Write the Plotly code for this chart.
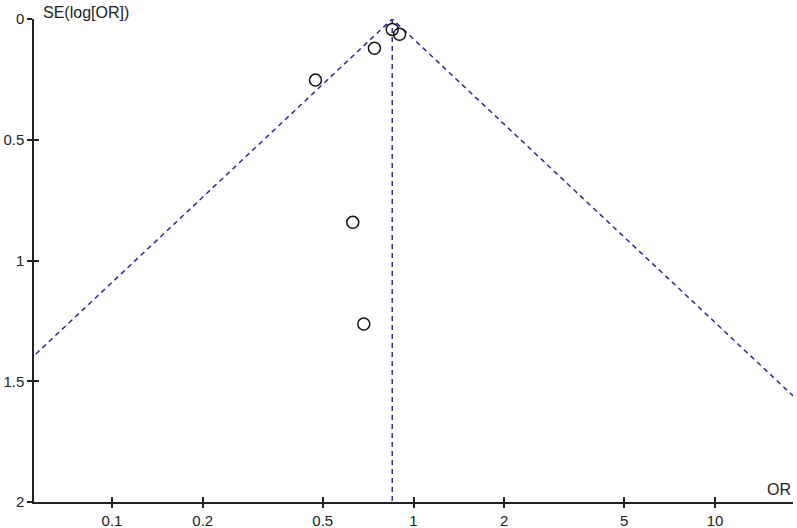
import plotly.graph_objects as go

# study estimates
study_or = [0.850, 0.899, 0.742, 0.473, 0.629, 0.684]
study_se = [0.043, 0.063, 0.121, 0.253, 0.842, 1.263]

# pooled estimate and the pseudo 95% limits (ends at SE = 2)
pooled_or = [0.85, 0.85]
pooled_se = [0, 2]
funnel_or = [0.0168, 0.85, 43.0]
funnel_se = [2, 0, 2]

x_ticks = [0.1, 0.2, 0.5, 1, 2, 5, 10]
x_labels = ["0.1", "0.2", "0.5", "1", "2", "5", "10"]
y_ticks = [0, 0.5, 1, 1.5, 2]
y_labels = ["0", "0.5", "1", "1.5", "2"]

dash_col = "#2a2a96"
ink = "#222222"
font = dict(family="Liberation Sans, Arial, sans-serif", size=15, color=ink)
x_range = [-1.2587, 1.2587]
y_range = [2, 0]

fig = go.Figure()
fig.add_trace(go.Scatter(x=funnel_or, y=funnel_se, mode="lines",
                         line=dict(color=dash_col, width=1.5, dash="5px,4px"),
                         hoverinfo="skip"))
fig.add_trace(go.Scatter(x=pooled_or, y=pooled_se, mode="lines",
                         line=dict(color=dash_col, width=1.5, dash="5px,4px"),
                         hoverinfo="skip"))
fig.add_trace(go.Scatter(x=study_or, y=study_se, mode="markers",
                         marker=dict(symbol="circle-open", size=12,
                                     line=dict(color="#111111", width=1.5),
                                     color="#111111")))
# empty trace so the overlay axes (inner half of the ticks) get drawn
fig.add_trace(go.Scatter(x=[], y=[], xaxis="x2", yaxis="y2", hoverinfo="skip"))

axis_common = dict(showgrid=False, zeroline=False, automargin=False,
                   tickwidth=1.5, tickcolor=ink, tickfont=font)

fig.update_layout(
    xaxis=dict(type="log", range=x_range, tickvals=x_ticks, ticktext=x_labels,
               showline=True, linecolor=ink, linewidth=1.5,
               ticks="outside", ticklen=4, **axis_common),
    yaxis=dict(range=y_range, tickvals=y_ticks, ticktext=y_labels,
               showline=True, linecolor=ink, linewidth=1.5,
               ticks="outside", ticklen=5, **axis_common),
    xaxis2=dict(type="log", range=x_range, tickvals=x_ticks, overlaying="x",
                anchor="y2", side="bottom", showticklabels=False,
                ticks="inside", ticklen=5, **axis_common),
    yaxis2=dict(range=y_range, tickvals=y_ticks, overlaying="y",
                anchor="x2", side="left", showticklabels=False,
                ticks="inside", ticklen=5, **axis_common),
)

fig.add_annotation(text="SE(log[OR])", xref="paper", yref="paper",
                   x=0, y=1, xanchor="left", yanchor="bottom",
                   xshift=7, yshift=-4, showarrow=False,
                   font=dict(font, size=16))
fig.add_annotation(text="OR", xref="paper", yref="paper",
                   x=1, y=0, xanchor="right", yanchor="bottom",
                   xshift=0, yshift=2, showarrow=False,
                   font=dict(font, size=16))

fig.update_layout(width=797, height=528, showlegend=False,
                  paper_bgcolor="white", plot_bgcolor="white",
                  margin=dict(l=34, r=4, t=19, b=26))

# drop the default 8px page margin so the figure sits at the window corner
fig.write_html("out.html", config={"displayModeBar": False},
               post_script="document.body.style.margin='0px';"
                           "document.body.style.overflow='hidden';")
